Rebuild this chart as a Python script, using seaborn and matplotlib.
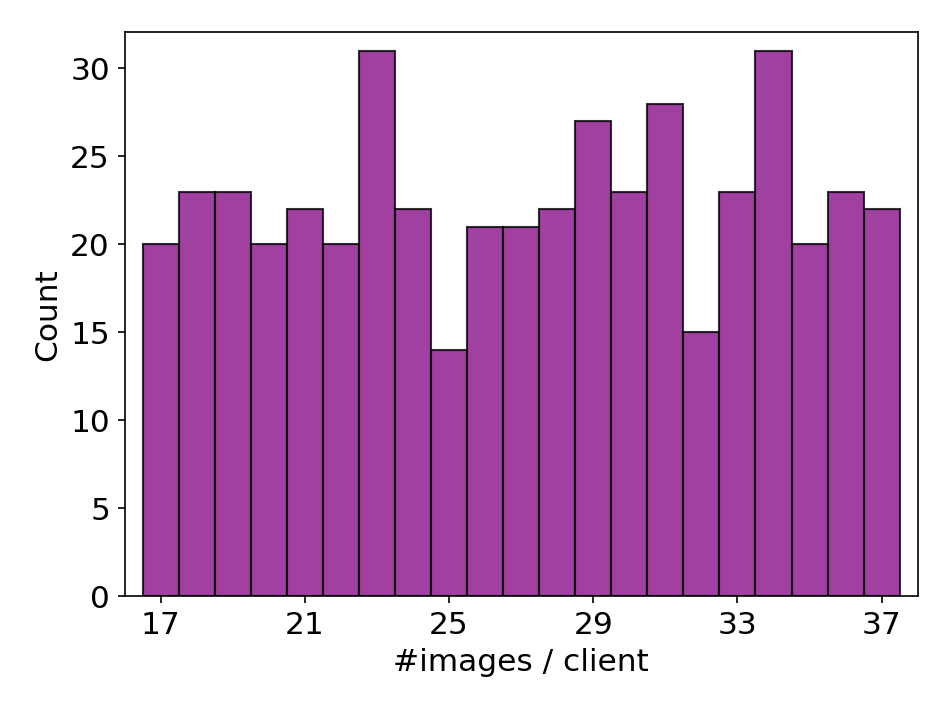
#!/usr/bin/env python
''' Histogram of images per client.
'''

import seaborn as sns
import matplotlib
matplotlib.use('Agg')
import matplotlib.pyplot as plt

# Number of images held by a client, and how many clients hold that many.
images_per_client = [17, 18, 19, 20, 21, 22, 23, 24, 25, 26, 27,
                     28, 29, 30, 31, 32, 33, 34, 35, 36, 37]
client_counts = [20, 23, 23, 20, 22, 20, 31, 22, 14, 21, 21,
                 22, 27, 23, 28, 15, 23, 31, 20, 23, 22]
x_ticks = [17, 21, 25, 29, 33, 37]


def main():
    fig, ax = plt.subplots(figsize=(6.34, 4.75), dpi=150)
    sns.histplot(x=images_per_client, weights=client_counts, discrete=True,
                 color='purple', edgecolor=(0, 0, 0, 0.8), ax=ax)
    ax.set_xlim(16, 38)
    ax.set_ylim(0, 32.1)
    ax.set_xticks(x_ticks)
    ax.set_xlabel('#images / client', fontsize=15)
    ax.set_ylabel('Count', fontsize=15)
    ax.tick_params(labelsize=15)
    fig.subplots_adjust(left=0.131, right=0.965, top=0.955, bottom=0.163)
    fig.savefig('out.png')


if __name__ == '__main__':
    main()
